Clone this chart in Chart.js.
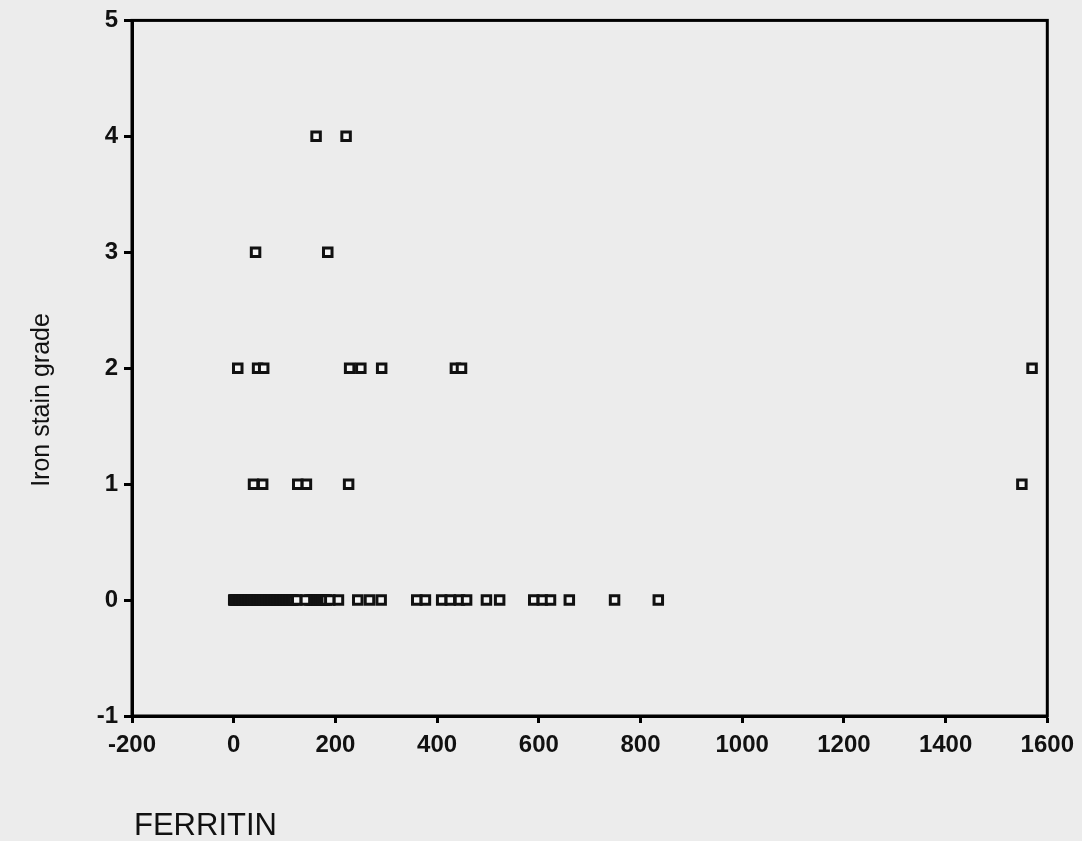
<!DOCTYPE html>
<html>
<head>
<meta charset="utf-8">
<script src="https://cdn.jsdelivr.net/npm/chart.js@4/dist/chart.umd.min.js"></script>
<style>
  html, body { margin: 0; padding: 0; background: #ececec; }
  #wrap { width: 1082px; height: 841px; position: relative; }
</style>
</head>
<body>
<div id="wrap"><canvas id="scatter"></canvas></div>
<script>
// ferritin values, one array per iron stain grade
// (the low grade-0 cluster is so dense it prints as a solid bar; the last few are the ones left visible)
const grade0Ferritin = [0, 2, 4, 6, 8, 10, 13, 16, 19, 22, 25, 28, 31, 34, 37, 40, 43, 46, 49, 52, 55, 58, 61, 64, 67, 70,
  73, 76, 79, 82, 85, 88, 91, 94, 97, 100, 103, 106, 109, 112, 115, 118, 150, 154, 158, 162, 166, 170, 174, 178, 182,
  124, 141, 189, 206, 244, 267, 290, 360, 377, 409, 426, 444, 458, 497, 523, 590, 607, 623, 660, 749, 835];
const grade1Ferritin = [39, 57, 126, 143, 226, 1550];
const grade2Ferritin = [8, 47, 59, 228, 250, 291, 436, 448, 1570];
const grade3Ferritin = [43, 185];
const grade4Ferritin = [162, 221];

const grades = [0, 1, 2, 3, 4];
const ferritinByGrade = [grade0Ferritin, grade1Ferritin, grade2Ferritin, grade3Ferritin, grade4Ferritin];

const xTicks = [-200, 0, 200, 400, 600, 800, 1000, 1200, 1400, 1600];
const yTicks = [-1, 0, 1, 2, 3, 4, 5];

const points = [];
grades.forEach((g, i) => {
  ferritinByGrade[i].forEach(v => points.push({ x: v, y: g }));
});

const tickFont = { family: "'Liberation Sans', Arial, sans-serif", size: 24, weight: 'bold' };

// frame around the plot area and the two axis titles
const framePlugin = {
  id: 'frame',
  beforeDatasetsDraw(chart) {
    const { ctx, chartArea: a } = chart;
    ctx.save();
    ctx.strokeStyle = '#000';
    ctx.lineWidth = 3;
    ctx.strokeRect(a.left, a.top, a.right - a.left, a.bottom - a.top);
    ctx.restore();
  },
  afterDraw(chart) {
    const { ctx } = chart;
    ctx.save();
    ctx.fillStyle = '#111';
    ctx.font = "31px 'Liberation Sans', Arial, sans-serif";
    ctx.textBaseline = 'middle';
    ctx.textAlign = 'left';
    ctx.fillText('FERRITIN', 134, 826);
    ctx.translate(42, 400);
    ctx.rotate(-Math.PI / 2);
    ctx.textAlign = 'center';
    ctx.font = "25px 'Liberation Sans', Arial, sans-serif";
    ctx.fillText('Iron stain grade', 0, 0);
    ctx.restore();
  }
};

new Chart(document.getElementById('scatter'), {
  type: 'scatter',
  data: {
    datasets: [{
      data: points,
      pointStyle: 'rect',
      pointRadius: 6,
      pointHoverRadius: 6,
      borderWidth: 3,
      borderColor: '#111',
      backgroundColor: '#f5f5f5'
    }]
  },
  options: {
    responsive: true,
    maintainAspectRatio: false,
    animation: false,
    layout: { padding: { left: 0, top: 18, right: 33, bottom: 0 } },
    plugins: {
      legend: { display: false },
      tooltip: { enabled: false }
    },
    scales: {
      x: {
        type: 'linear',
        min: xTicks[0],
        max: xTicks[xTicks.length - 1],
        afterBuildTicks: (scale) => { scale.ticks = xTicks.map(v => ({ value: v })); },
        afterFit: (scale) => { scale.height = 125; },
        ticks: { color: '#111', font: tickFont, padding: 8, maxRotation: 0, callback: (v) => String(v) },
        grid: { drawOnChartArea: false, drawTicks: true, tickLength: 7, tickWidth: 3, tickColor: '#000' },
        border: { display: true, color: '#000', width: 3 }
      },
      y: {
        type: 'linear',
        min: yTicks[0],
        max: yTicks[yTicks.length - 1],
        afterBuildTicks: (scale) => { scale.ticks = yTicks.map(v => ({ value: v })); },
        afterFit: (scale) => { scale.width = 132; },
        ticks: { color: '#111', font: tickFont, padding: 6, callback: (v) => String(v) },
        grid: { drawOnChartArea: false, drawTicks: true, tickLength: 8, tickWidth: 3, tickColor: '#000' },
        border: { display: true, color: '#000', width: 3 }
      }
    }
  },
  plugins: [framePlugin]
});
</script>
</body>
</html>
